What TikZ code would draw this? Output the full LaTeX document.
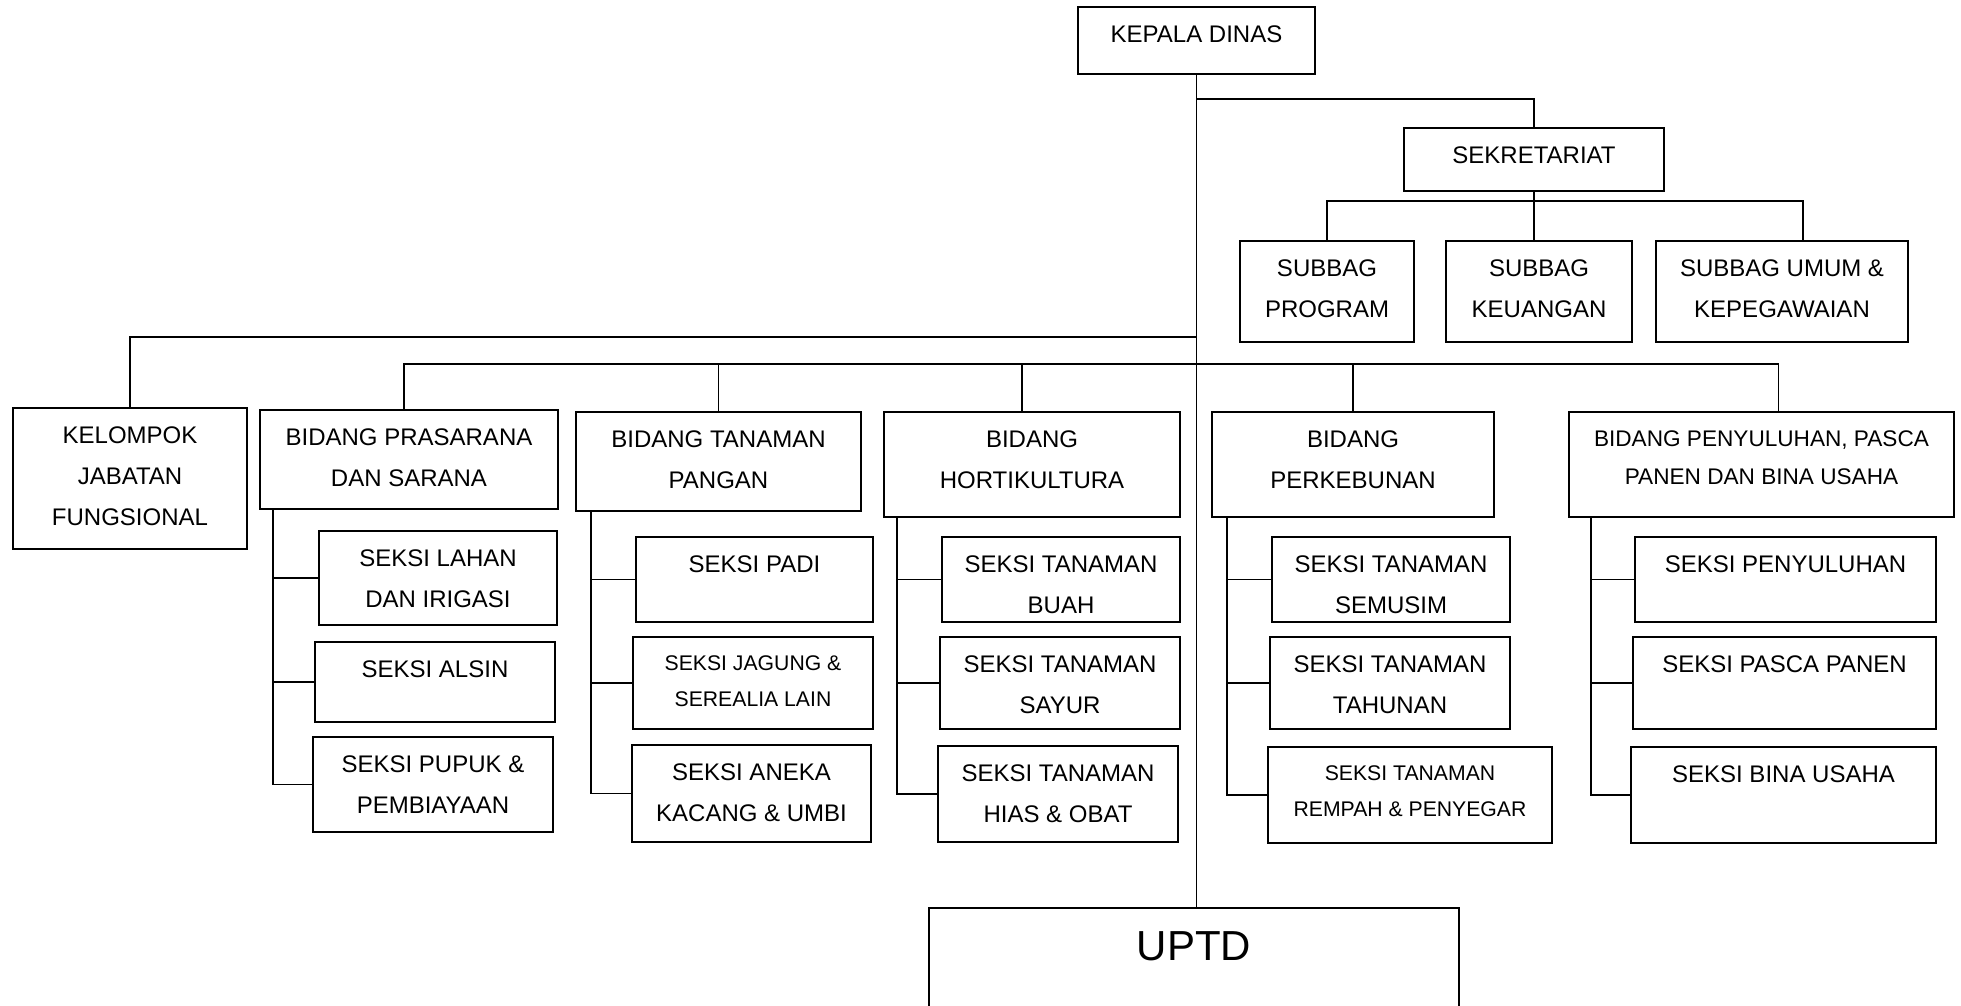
\documentclass[tikz,border=0pt]{standalone}
\usepackage{fontspec}
\setmainfont{Liberation Sans}

\tikzset{
  box/.style={draw, line width=0.8pt, inner sep=0pt},
  txt/.style={anchor=north, yshift=-9.75pt, inner sep=0pt, align=center, font=\fontsize{12}{20.5}\selectfont},
  smalltxt/.style={txt, font=\fontsize{10.6}{18}\selectfont},
  link/.style={line width=0.8pt},
}

\begin{document}
\begin{tikzpicture}[x=0.5pt,y=-0.5pt]
            \useasboundingbox (0,0) rectangle (1961,1006);
            \clip (0,0) rectangle (1961,1006);

            % kepala dan sekretariat
            \node[box, minimum width=118.5pt, minimum height=33.5pt, label={[txt]north:KEPALA DINAS}] (kepala) at (1196.5,40.5) {};
            \node[box, minimum width=130pt, minimum height=31.5pt, label={[txt]north:SEKRETARIAT}] (sekre) at (1534,159.5) {};
            \node[box, minimum width=87pt, minimum height=50.5pt, label={[txt]north:SUBBAG\\PROGRAM}] (subProg) at (1327,291.5) {};
            \node[box, minimum width=93pt, minimum height=50.5pt, label={[txt]north:SUBBAG\\KEUANGAN}] (subKeu) at (1539,291.5) {};
            \node[box, minimum width=126pt, minimum height=50.5pt, label={[txt]north:SUBBAG UMUM \&\\KEPEGAWAIAN}] (subUmum) at (1782,291.5) {};

            % bidang
            \node[box, minimum width=117pt, minimum height=70.5pt, label={[txt]north:KELOMPOK\\JABATAN\\FUNGSIONAL}] (kelompok) at (130,478.5) {};
            \node[box, minimum width=149pt, minimum height=49.5pt, label={[txt]north:BIDANG PRASARANA\\DAN SARANA}] (bidPras) at (409,459.5) {};
            \node[box, minimum width=142.5pt, minimum height=49.5pt, label={[txt]north:BIDANG TANAMAN\\PANGAN}] (bidPangan) at (718.5,461.5) {};
            \node[box, minimum width=148pt, minimum height=52.5pt, label={[txt]north:BIDANG\\HORTIKULTURA}] (bidHorti) at (1032,464.5) {};
            \node[box, minimum width=141pt, minimum height=52.5pt, label={[txt]north:BIDANG\\PERKEBUNAN}] (bidKebun) at (1353,464.5) {};
            \node[box, minimum width=192.5pt, minimum height=52.5pt, label={[txt, font=\fontsize{11.3}{19}\selectfont]north:{BIDANG PENYULUHAN, PASCA\\PANEN DAN BINA USAHA}}] (bidSuluh) at (1761.5,464.5) {};

            % seksi
            \node[box, minimum width=119pt, minimum height=47pt, label={[txt]north:SEKSI LAHAN\\DAN IRIGASI}] (lahan) at (438,578) {};
            \node[box, minimum width=120pt, minimum height=40pt, label={[txt]north:SEKSI ALSIN}] (alsin) at (435,682) {};
            \node[box, minimum width=120pt, minimum height=47.5pt, label={[txt]north:SEKSI PUPUK \&\\PEMBIAYAAN}] (pupuk) at (433,784.5) {};

            \node[box, minimum width=118.5pt, minimum height=42.5pt, label={[txt]north:SEKSI PADI}] (padi) at (754.5,579.5) {};
            \node[box, minimum width=120pt, minimum height=46pt, label={[smalltxt]north:SEKSI JAGUNG \&\\SEREALIA LAIN}] (jagung) at (753,683) {};
            \node[box, minimum width=119.5pt, minimum height=48.5pt, label={[txt]north:SEKSI ANEKA\\KACANG \& UMBI}] (aneka) at (751.5,793.5) {};

            \node[box, minimum width=119pt, minimum height=42.5pt, label={[txt]north:SEKSI TANAMAN\\BUAH}] (buah) at (1061,579.5) {};
            \node[box, minimum width=120pt, minimum height=46pt, label={[txt]north:SEKSI TANAMAN\\SAYUR}] (sayur) at (1060,683) {};
            \node[box, minimum width=120pt, minimum height=48pt, label={[txt]north:SEKSI TANAMAN\\HIAS \& OBAT}] (hias) at (1058,794) {};

            \node[box, minimum width=119pt, minimum height=42.5pt, label={[txt]north:SEKSI TANAMAN\\SEMUSIM}] (semusim) at (1391,579.5) {};
            \node[box, minimum width=120pt, minimum height=46pt, label={[txt]north:SEKSI TANAMAN\\TAHUNAN}] (tahunan) at (1390,683) {};
            \node[box, minimum width=142pt, minimum height=48pt, label={[smalltxt]north:SEKSI TANAMAN\\REMPAH \& PENYEGAR}] (rempah) at (1410,795) {};

            \node[box, minimum width=150.5pt, minimum height=42.5pt, label={[txt]north:SEKSI PENYULUHAN}] (penyuluhan) at (1785.5,579.5) {};
            \node[box, minimum width=151.5pt, minimum height=46pt, label={[txt]north:SEKSI PASCA PANEN}] (pasca) at (1784.5,683) {};
            \node[box, minimum width=152.5pt, minimum height=48pt, label={[txt]north:SEKSI BINA USAHA}] (bina) at (1783.5,795) {};

            \node[box, minimum width=265pt, minimum height=66pt, label={[txt, yshift=-2pt, font=\fontsize{21}{25}\selectfont]north:UPTD}] (uptd) at (1194,974) {};

            % garis
            \coordinate (jSek) at (1196.5,99);
            \coordinate (jKel) at (1196.5,337);
            \coordinate (jBid) at (1196.5,364);
            \coordinate (jSub) at (1534,201);

            \draw[link] (kepala.south) -- (kepala.south |- uptd.north);
            \draw[link] (jSek) -| (sekre.north);
            \draw[link] (sekre.south) -- (jSub);
            \draw[link] (jSub) -| (subProg.north);
            \draw[link] (jSub) -- (jSub |- subKeu.north);
            \draw[link] (jSub) -| ([xshift=10.5pt]subUmum.north);

            \draw[link] (jKel) -| (kelompok.north);
            \draw[link] (jBid) -| ([xshift=-2.5pt]bidPras.north);
            \draw[link] (jBid) -| (bidPangan.north);
            \draw[link] (jBid) -| ([xshift=-5pt]bidHorti.north);
            \draw[link] (jBid) -| (bidKebun.north);
            \draw[link] (jBid) -| ([xshift=8.5pt]bidSuluh.north);

            \foreach \s in {lahan,alsin,pupuk}
                \draw[link] ([xshift=7pt]bidPras.south west) |- (\s.west);
            \foreach \s in {padi,jagung,aneka}
                \draw[link] ([xshift=8pt]bidPangan.south west) |- (\s.west);
            \foreach \s in {buah,sayur,hias}
                \draw[link] ([xshift=7pt]bidHorti.south west) |- (\s.west);
            \foreach \s in {semusim,tahunan,rempah}
                \draw[link] ([xshift=8pt]bidKebun.south west) |- (\s.west);
            \foreach \s in {penyuluhan,pasca,bina}
                \draw[link] ([xshift=11.5pt]bidSuluh.south west) |- (\s.west);
\end{tikzpicture}
\end{document}
